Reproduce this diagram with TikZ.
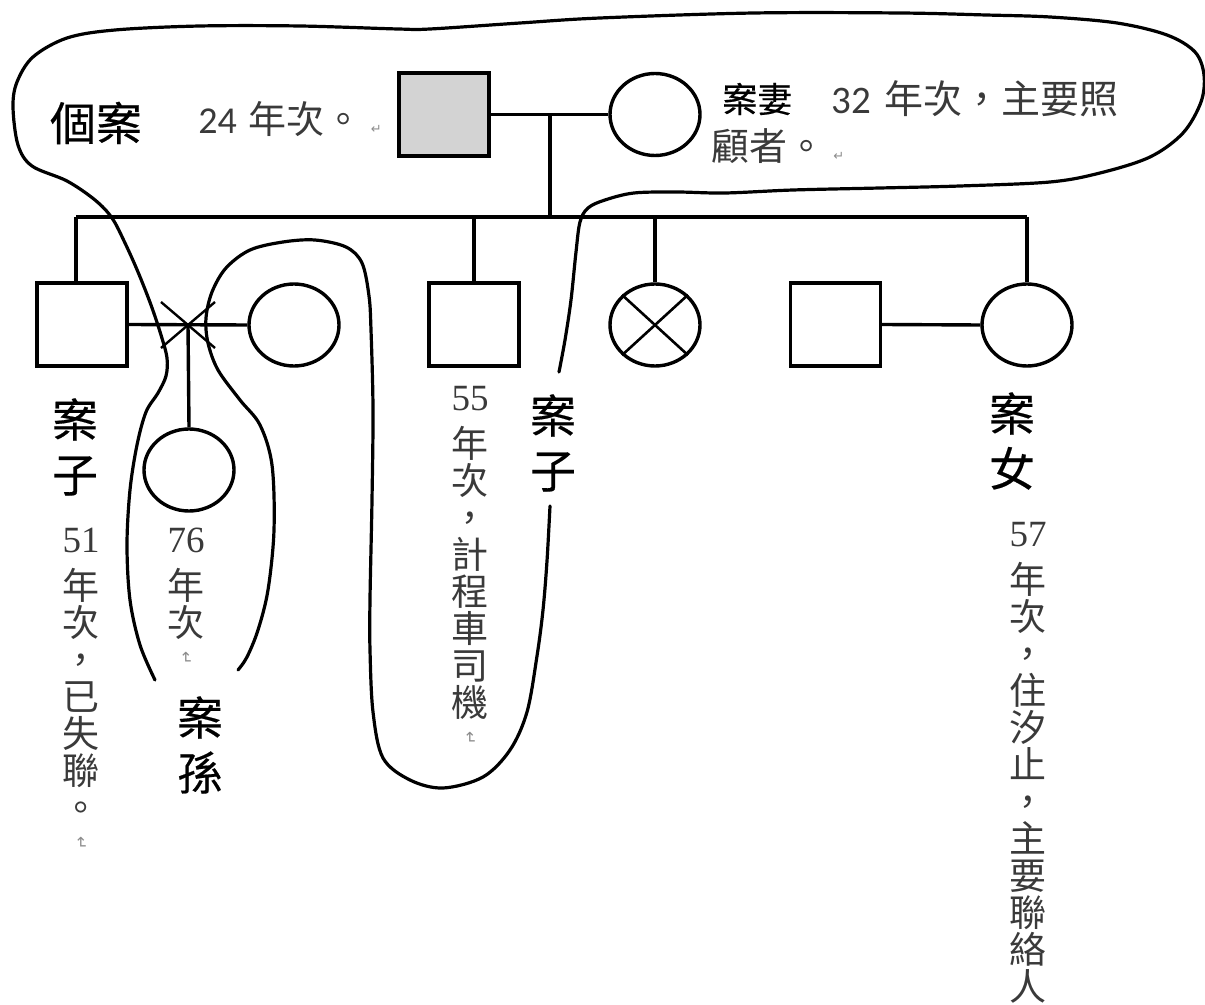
\documentclass[tikz,border=0pt]{standalone}
\usepackage{fontspec}
\usepackage{graphicx}
\usetikzlibrary{shapes.geometric}
\setmainfont{Liberation Serif}
\newfontfamily\cjk{Noto Sans CJK TC}
\newfontfamily\cjklbl[FakeBold=0.4]{Noto Sans CJK TC}
\newfontfamily\calib{Carlito}
\newfontfamily\djv{DejaVu Sans}
\definecolor{annogray}{HTML}{3A3A3A}
\definecolor{markgray}{HTML}{8C8C8C}
\definecolor{idxfill}{HTML}{D3D3D3}
\newcommand{\retmark}{{\djv\color{markgray}\fontsize{6.5}{6.5}\selectfont ↵}}
\newcommand{\vretmark}{{\djv\color{markgray}\fontsize{8}{8}\selectfont\rotatebox{-90}{↵}}}
\newcommand{\vcolumn}[2]{\vtop{\halign{\hfil##\hfil\cr#1\cr\noalign{\kern5pt}#2\crcr}}}
\begin{document}
\begin{tikzpicture}[x=0.5pt,y=-0.5pt,
  ln/.style={line width=1.7pt},
  sq/.style={draw, line width=1.7pt, minimum width=45pt, minimum height=41.5pt, inner sep=0pt},
  ci/.style={draw, ellipse, line width=1.7pt, minimum width=45pt, minimum height=41pt, inner sep=0pt},
  loopline/.style={line width=1.6pt, line join=round, line cap=round},
  lbl/.style={font=\cjklbl\fontsize{23}{27.5}\selectfont, align=center, inner sep=0pt, text=black},
  anno/.style={font=\cjk\fontsize{19}{19}\selectfont, text=annogray, inner sep=0pt, anchor=west},
  vcol/.style={font=\cjk\fontsize{18.5}{18.5}\selectfont, text=annogray, inner sep=0pt, anchor=base}]
\useasboundingbox (0,0) rectangle (1205,1005);

% ---------- generation 1 ----------
\node[sq, fill=idxfill] (idx) at (444,114.5) {};
\node[ci] (wife) at (655,114.5) {};
\draw[ln] (idx.east) -- (wife.west);
\coordinate (m1) at (550,114.5);
\coordinate (sib) at (550,217);
\draw[ln] (m1) -- (sib);

% ---------- sibship ----------
\coordinate (sL) at (76,217);
\coordinate (sR) at (1027,217);
\draw[ln] (sL) -- (sR);

% ---------- generation 2 ----------
\node[sq] (son1) at (82,324.5) {};
\node[ci] (exwife) at (294,325) {};
\node[sq] (son2) at (474,324.5) {};
\node[ci] (dec) at (655,325) {};
\node[sq] (sil) at (835.5,324.5) {};
\node[ci] (dau) at (1027,325) {};

\draw[ln] (sL) -- (sL |- son1.north);
\draw[ln] (son2.north |- sL) -- (son2.north);
\draw[ln] (dec.north |- sL) -- (dec.north);
\draw[ln] (sR) -- (dau.north);

\draw[ln] (son1.east) -- (exwife.west);
\draw[ln] (sil.east) -- (dau.west);
\draw[line width=1.3pt] (dec.north west) -- (dec.south east);
\draw[line width=1.3pt] (dec.north east) -- (dec.south west);

% divorce and grandchild
\coordinate (dv) at (188,325);
\draw[line width=1.2pt] (dv) +(-27,-23) -- +(27,23);
\draw[line width=1.2pt] (dv) +(27,-23) -- +(-27,23);
\node[ci] (gchild) at (189,470) {};
\draw[ln] (dv) -- (gchild.north);

% ---------- household boundary ----------
\draw[loopline] plot[smooth, tension=0.55] coordinates {
 (155,680) (140,645) (130,600) (127,545) (130,490) (137,445) (146,412)
 (158,393) (166,376) (167,358) (161,335) (151,305) (138,272) (125,243)
 (112,218) (95,200) (67,181) (32,166) (18,145) (13,107) (17,82) (33,57)
 (67,38) (115,30) (200,26) (300,26) (398,29) (430,29) (520,23) (600,18)
 (754,13) (900,13) (986,15) (1050,17) (1117,23) (1167,35) (1195,52)
 (1204,75) (1201,102) (1183,133) (1150,157) (1100,173) (1050,182)
 (960,186) (880,188) (793,190) (725,193) (677,192) (634,193) (605,200)
 (588,208) (580,222) (576,252) (571,300) (565,340) (559,372)};
\draw[loopline] plot[smooth, tension=0.55] coordinates {
 (550,506) (547,561) (543,610) (537,656) (527,712) (510,750) (483,777)
 (443,788) (410,780) (383,758) (373,712) (370,650) (370,599) (372,500)
 (373,409) (371,330) (369,296) (362,263) (346,247) (315,240) (283,242)
 (250,250) (226,268) (212,292) (206,318) (208,343) (218,370) (240,400)
 (260,425) (272,465) (274,530) (268,590) (258,630) (247,657) (238,670)};

% ---------- labels ----------
\node[lbl, font=\cjklbl\fontsize{23}{23}\selectfont] (lIdx) at (96,123) {個案};
\node[anno] (tIdx) at (198,119) {{\calib 24}\hspace{6pt}年次。\hspace{4pt}\retmark};
\node[lbl, anchor=west, font=\cjklbl\fontsize{17.5}{17.5}\selectfont] (lWife) at (722,99) {案妻};
\node[anno, font=\cjk\fontsize{19.5}{19.5}\selectfont] (tWifeA) at (831,99) {{\calib 32}\hspace{7pt}年次，主要照};
\node[anno] (tWifeB) at (711,146) {顧者。\hspace{4pt}\retmark};

\node[lbl] (lSon1) at (75,447) {案\\子};
\node[lbl] (lSon2) at (553,443) {案\\子};
\node[lbl] (lGch) at (200,745) {案\\孫};
\node[lbl] (lDau) at (1012,441) {案\\女};

\node[vcol] (c51) at (81,552.5) {\vcolumn{\rmfamily 51}{年\cr 次\cr ，\cr 已\cr 失\cr 聯\cr 。\cr\noalign{\kern-11pt}\vretmark}};
\node[vcol] (c76) at (186,552.5) {\vcolumn{\rmfamily 76}{年\cr 次\cr\noalign{\kern-11pt}\vretmark}};
\node[vcol] (c55) at (470,410.5) {\vcolumn{\rmfamily 55}{年\cr 次\cr ，\cr 計\cr 程\cr 車\cr 司\cr 機\cr\noalign{\kern-11pt}\vretmark}};
\node[vcol] (c57) at (1028,546.5) {\vcolumn{\rmfamily 57}{年\cr 次\cr ，\cr 住\cr 汐\cr 止\cr ，\cr 主\cr 要\cr 聯\cr 絡\cr 人}};
\end{tikzpicture}
\end{document}
